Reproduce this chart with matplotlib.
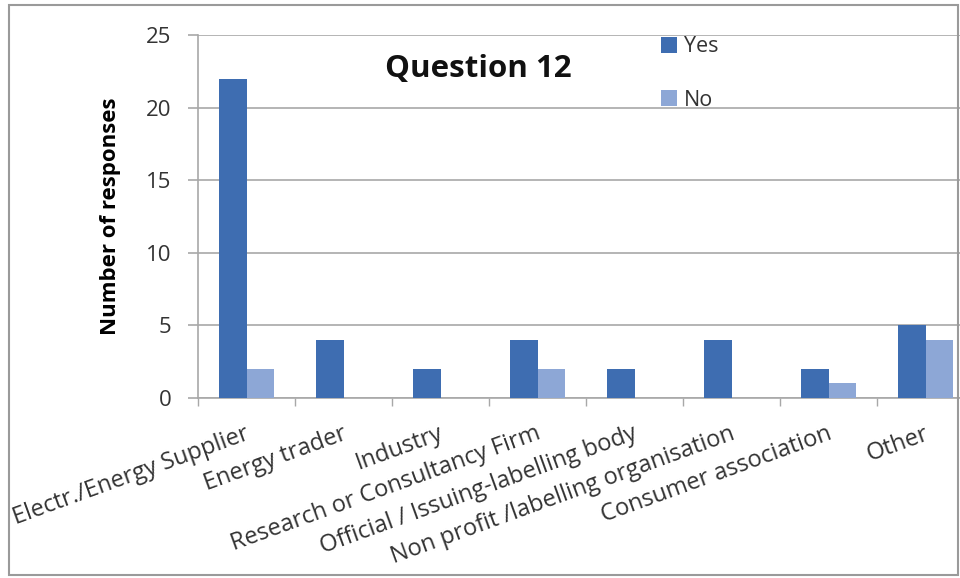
import matplotlib
matplotlib.use("Agg")
import matplotlib.pyplot as plt
from matplotlib.patches import Rectangle
import numpy as np

categories = ["Electr./Energy Supplier", "Energy trader", "Industry",
              "Research or Consultancy Firm", "Official / Issuing-labelling body",
              "Non profit /labelling organisation", "Consumer association", "Other"]
yes_values = [22, 4, 2, 4, 2, 4, 2, 5]
no_values = [2, 0, 0, 2, 0, 0, 1, 4]
y_ticks = [0, 5, 10, 15, 20, 25]

plt.rcParams['font.family'] = ['Open Sans', 'DejaVu Sans']

fig = plt.figure(figsize=(9.6, 5.78), dpi=100)
W, H = 960, 578
ax = fig.add_axes([198 / W, (H - 398) / H, 776 / W, 363 / H])

x = np.arange(len(categories))
bw = 0.285
ax.bar(x - bw / 2, yes_values, bw, color='#3E6DB1', label='Yes', zorder=3)
ax.bar(x + bw / 2, no_values, bw, color='#8DA7D6', label='No', zorder=3)

ax.set_xlim(-0.5, len(categories) - 0.5)
ax.set_ylim(0, 25)
ax.set_yticks(y_ticks)
ax.set_yticklabels([str(v) for v in y_ticks], fontsize=16, color='#333333')
ax.yaxis.grid(True, color='#A8A8A8', linewidth=1.2, zorder=0)
ax.set_axisbelow(True)

ax.set_xticks(np.arange(len(categories) + 1) - 0.5)
ax.set_xticklabels([])
ax.tick_params(axis='x', length=6, color='#A8A8A8', width=1)
ax.tick_params(axis='y', length=7, color='#A8A8A8', width=1.2, pad=12)

for i, c in enumerate(categories):
    ax.annotate(c, xy=(i - 0.02, 0), xycoords=('data', 'axes fraction'),
                xytext=(0, -17), textcoords='offset points',
                ha='right', va='top', rotation=20, rotation_mode='anchor',
                fontsize=17, color='#333333')

for s in ['top', 'right']:
    ax.spines[s].set_visible(False)
ax.spines['left'].set_color('#A8A8A8')
ax.spines['left'].set_linewidth(1.2)
ax.spines['bottom'].set_color('#A8A8A8')
ax.spines['bottom'].set_linewidth(1.2)

ax.set_ylabel("Number of responses", fontsize=16, fontweight='bold', labelpad=18)

ax.text(0.241, 0.884, "Question 12", transform=ax.transAxes, fontsize=22.5,
        fontweight='bold', ha='left', va='baseline', color='#111111')

leg = ax.legend(loc='upper left', bbox_to_anchor=(0.585, 1.02), frameon=False,
                fontsize=15.5, handlelength=0.75, handleheight=0.75,
                labelspacing=1.5, handletextpad=0.35, borderaxespad=0)
for t in leg.get_texts():
    t.set_color('#333333')

fig.patches.append(Rectangle((9 / W, 3 / H), 949 / W, 570 / H, transform=fig.transFigure,
                             fill=False, edgecolor='#9A9A9A', linewidth=1.5))

fig.savefig("out.png", dpi=100)
